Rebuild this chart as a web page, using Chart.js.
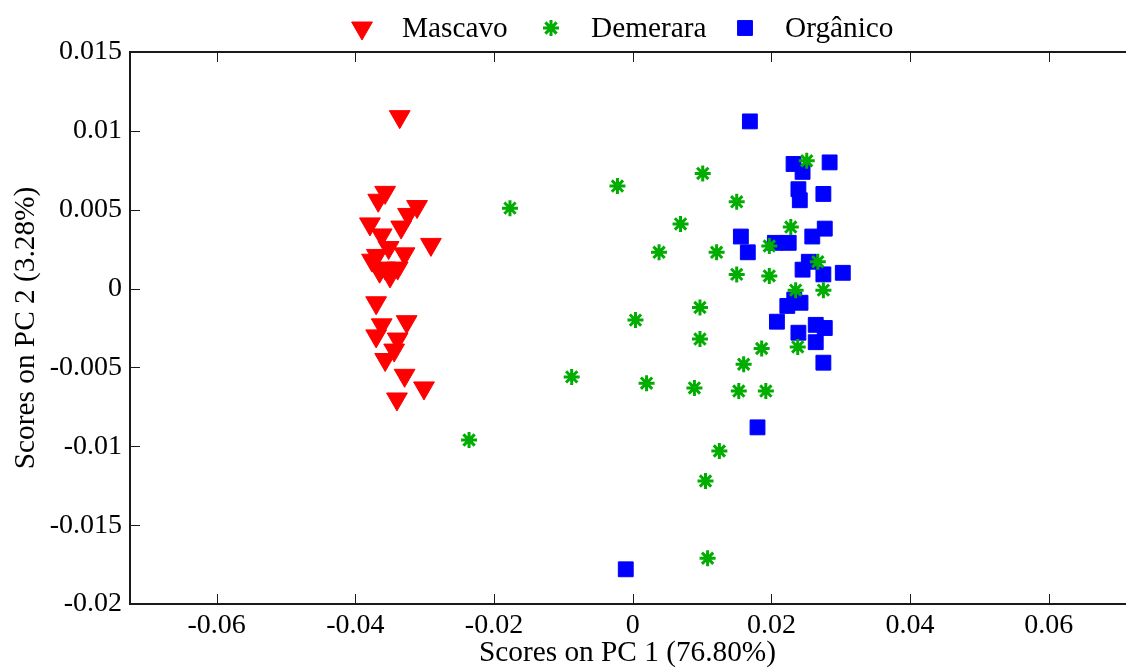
<!DOCTYPE html>
<html>
<head>
<meta charset="utf-8">
<script src="https://cdn.jsdelivr.net/npm/chart.js@4.4.1/dist/chart.umd.min.js"></script>
<style>
  html, body { margin: 0; padding: 0; background: #fff; }
  #wrap { width: 1126px; height: 671px; }
</style>
</head>
<body>
<div id="wrap"><canvas id="pcaChart" width="1126" height="671"></canvas></div>
<script>
// PCA scores, [PC1, PC2]
const mascavo = [
    [-0.0336, 0.0109], [-0.0357, 0.0061], [-0.0367, 0.0056], [-0.0311, 0.0052],
    [-0.0324, 0.0047], [-0.0379, 0.0041], [-0.0334, 0.0039], [-0.0362, 0.0034],
    [-0.0291, 0.0028], [-0.0352, 0.0026], [-0.0329, 0.0022], [-0.0369, 0.0021],
    [-0.0376, 0.0018], [-0.0357, 0.0013], [-0.0339, 0.0013], [-0.0350, 0.0008],
    [-0.0365, 0.0011], [-0.0370, -0.0009], [-0.0326, -0.0021], [-0.0362, -0.0023],
    [-0.0370, -0.0030], [-0.0339, -0.0032], [-0.0344, -0.0039], [-0.0357, -0.0045],
    [-0.0329, -0.0055], [-0.0301, -0.0063], [-0.0340, -0.0070]
];
const demerara = [
    [-0.0177, 0.0051], [-0.0022, 0.0065], [0.0101, 0.0073], [0.0150, 0.0055],
    [0.0069, 0.0041], [0.0038, 0.0023], [0.0121, 0.0023], [0.0150, 0.0009],
    [0.0097, -0.0012], [0.0004, -0.0020], [0.0097, -0.0032], [-0.0088, -0.0056],
    [0.0020, -0.0060], [0.0089, -0.0063], [0.0153, -0.0065], [0.0160, -0.0048],
    [0.0186, -0.0038], [0.0125, -0.0103], [0.0105, -0.0122], [0.0108, -0.0171],
    [-0.0236, -0.0096], [0.0251, 0.0081], [0.0228, 0.0039], [0.0197, 0.0027],
    [0.0197, 0.0008], [0.0267, 0.0017], [0.0235, -0.0001], [0.0275, -0.0001],
    [0.0238, -0.0037], [0.0192, -0.0065]
];
const organico = [
    [0.0169, 0.0106], [0.0232, 0.0079], [0.0245, 0.0074], [0.0284, 0.0080],
    [0.0239, 0.0063], [0.0241, 0.0056], [0.0275, 0.0060], [0.0277, 0.0038],
    [0.0259, 0.0033], [0.0156, 0.0033], [0.0166, 0.0023], [0.0205, 0.0029],
    [0.0225, 0.0029], [0.0254, 0.0017], [0.0245, 0.0012], [0.0275, 0.0009],
    [0.0303, 0.0010], [0.0233, -0.0007], [0.0242, -0.0009], [0.0223, -0.0011],
    [0.0208, -0.0021], [0.0239, -0.0028], [0.0264, -0.0023], [0.0277, -0.0025],
    [0.0264, -0.0034], [0.0275, -0.0047], [0.0180, -0.0088], [-0.0010, -0.0178]
];

const seriesNames = ['Mascavo', 'Demerara', 'Orgânico'];
const xTicks = [-0.06, -0.04, -0.02, 0, 0.02, 0.04, 0.06];
const xTickLabels = ['-0.06', '-0.04', '-0.02', '0', '0.02', '0.04', '0.06'];
const yTicks = [0.015, 0.01, 0.005, 0, -0.005, -0.01, -0.015, -0.02];
const yTickLabels = ['0.015', '0.01', '0.005', '0', '-0.005', '-0.01', '-0.015', '-0.02'];

const FAMILY = "'Liberation Serif', 'Times New Roman', serif";
const TICK_FONT = { family: FAMILY, size: 28 };
const TITLE_FONT = { family: FAMILY, size: 29.3 };

const toPoints = arr => arr.map(p => ({ x: p[0], y: p[1] }));

const styles = [
    { pointStyle: 'triangle', rotation: 180, radius: 12, color: '#ff0000', borderWidth: 1 },
    { pointStyle: 'star', rotation: 0, radius: 8, color: '#00ad00', borderWidth: 3 },
    { pointStyle: 'rect', rotation: 0, radius: 10.5, color: '#0000ff', borderWidth: 1 }
];

const datasets = [mascavo, demerara, organico].map((arr, i) => ({
    label: seriesNames[i],
    data: toPoints(arr),
    pointStyle: styles[i].pointStyle,
    rotation: styles[i].rotation,
    pointRadius: styles[i].radius,
    pointBackgroundColor: styles[i].color,
    pointBorderColor: styles[i].color,
    pointBorderWidth: styles[i].borderWidth,
    showLine: false
}));

// axes box with inward ticks; the right side of the box falls off the canvas
const framePlugin = {
    id: 'frame',
    afterDatasetsDraw(chart) {
        const { ctx, chartArea: a, scales: { x, y }, width } = chart;
        ctx.save();
        ctx.strokeStyle = '#1a1a1a';
        ctx.lineWidth = 1;
        ctx.beginPath();
        xTicks.forEach(v => {
            const px = Math.round(x.getPixelForValue(v)) + 0.5;
            ctx.moveTo(px, a.bottom); ctx.lineTo(px, a.bottom - 10);
            ctx.moveTo(px, a.top); ctx.lineTo(px, a.top + 10);
        });
        yTicks.forEach(v => {
            const py = Math.round(y.getPixelForValue(v)) + 0.5;
            ctx.moveTo(a.left, py); ctx.lineTo(a.left + 10, py);
        });
        ctx.stroke();
        ctx.lineWidth = 2;
        ctx.beginPath();
        ctx.moveTo(width, a.top);
        ctx.lineTo(a.left, a.top);
        ctx.lineTo(a.left, a.bottom);
        ctx.lineTo(width, a.bottom);
        ctx.stroke();
        ctx.restore();
    }
};

// legend row above the plot
const legendPlugin = {
    id: 'topLegend',
    afterDraw(chart) {
        const ctx = chart.ctx;
        const markerX = [362, 551, 745];
        const cy = 28;
        ctx.save();
        seriesNames.forEach((name, i) => {
            const s = styles[i];
            ctx.fillStyle = s.color;
            ctx.strokeStyle = s.color;
            ctx.lineWidth = s.borderWidth;
            Chart.helpers.drawPoint(ctx, {
                pointStyle: s.pointStyle,
                rotation: s.rotation,
                radius: s.radius,
                borderWidth: s.borderWidth
            }, markerX[i], cy);
            ctx.fillStyle = '#000';
            ctx.font = TITLE_FONT.size + 'px ' + FAMILY;
            ctx.textBaseline = 'middle';
            ctx.textAlign = 'left';
            ctx.fillText(name, markerX[i] + 40, cy + 1);
        });
        ctx.restore();
    }
};

const ctx = document.getElementById('pcaChart').getContext('2d');
const pcaChart = new Chart(ctx, {
    type: 'scatter',
    data: { datasets: datasets },
    plugins: [framePlugin, legendPlugin],
    options: {
        responsive: false,
        animation: false,
        events: [],
        layout: {
            autoPadding: false,
            padding: { top: 52, right: 1, left: 0, bottom: 0 }
        },
        plugins: {
            legend: { display: false },
            tooltip: { enabled: false }
        },
        scales: {
            x: {
                type: 'linear',
                min: -0.0725,
                max: 0.071,
                afterBuildTicks: scale => { scale.ticks = xTicks.map(v => ({ value: v })); },
                afterFit: scale => {
                    scale.height = 67;
                    scale.paddingLeft = 0;
                    scale.paddingRight = 0;
                },
                grid: { display: false, drawTicks: false },
                border: { display: false },
                ticks: {
                    font: TICK_FONT,
                    color: '#000',
                    padding: 5,
                    maxRotation: 0,
                    autoSkip: false,
                    callback: (v, i) => xTickLabels[i]
                },
                title: {
                    display: true,
                    text: 'Scores on PC 1 (76.80%)',
                    font: TITLE_FONT,
                    color: '#000',
                    padding: { top: 0, bottom: 0 }
                }
            },
            y: {
                type: 'linear',
                min: -0.02,
                max: 0.015,
                afterBuildTicks: scale => { scale.ticks = yTicks.map(v => ({ value: v })); },
                afterFit: scale => { scale.width = 130; },
                grid: { display: false, drawTicks: false },
                border: { display: false },
                ticks: {
                    font: TICK_FONT,
                    color: '#000',
                    padding: 8,
                    autoSkip: false,
                    callback: (v, i) => yTickLabels[i]
                },
                title: {
                    display: true,
                    text: 'Scores on PC 2 (3.28%)',
                    font: TITLE_FONT,
                    color: '#000',
                    padding: { top: 9, bottom: 0 }
                }
            }
        }
    }
});
</script>
</body>
</html>
